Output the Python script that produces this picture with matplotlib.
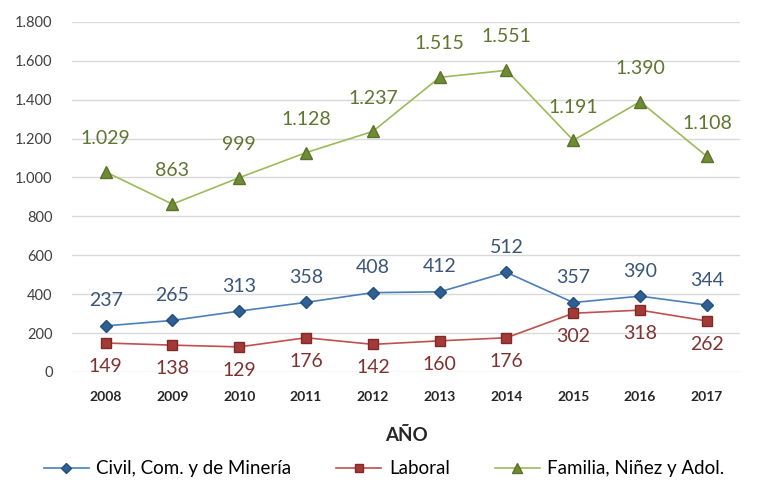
import matplotlib.pyplot as plt
import numpy as np

years = ["2008", "2009", "2010", "2011", "2012", "2013", "2014", "2015", "2016", "2017"]
civil = [237, 265, 313, 358, 408, 412, 512, 357, 390, 344]
laboral = [149, 138, 129, 176, 142, 160, 176, 302, 318, 262]
familia = [1029, 863, 999, 1128, 1237, 1515, 1551, 1191, 1390, 1108]


def fmt(v):
    return f"{v:,}".replace(",", ".")


plt.rcParams["font.family"] = ["Lato", "DejaVu Sans"]

fig = plt.figure(figsize=(7.68, 4.91), dpi=100)
ax = fig.add_axes([0.094, 0.2424, 0.87, 0.713])
x = np.arange(len(years))

ax.plot(x, civil, color="#4A7EBB", lw=1.2, marker="D", ms=6.5,
        mfc="#2F5F93", mec="#24507F", label="Civil, Com. y de Minería", zorder=3)
ax.plot(x, laboral, color="#C0504D", lw=1.2, marker="s", ms=7.5,
        mfc="#A33A37", mec="#7E2A28", label="Laboral", zorder=3)
ax.plot(x, familia, color="#9BBB59", lw=1.2, marker="^", ms=8.5,
        mfc="#6E8B35", mec="#5A7229", label="Familia, Niñez y Adol.", zorder=3)

for xi, v in zip(x, civil):
    ax.annotate(fmt(v), (xi, v), xytext=(0, 18), textcoords="offset points",
                ha="center", va="center", fontsize=14, color="#3A5579")
for xi, v in zip(x, laboral):
    ax.annotate(fmt(v), (xi, v), xytext=(0, -17), textcoords="offset points",
                ha="center", va="center", fontsize=14, color="#7F3230")
for xi, v in zip(x, familia):
    ax.annotate(fmt(v), (xi, v), xytext=(0, 24), textcoords="offset points",
                ha="center", va="center", fontsize=14, color="#5F7530")

ax.set_xlim(-0.5, len(years) - 0.5)
ax.set_ylim(0, 1800)
ax.set_yticks(range(0, 1801, 200))
ax.set_yticklabels([fmt(v) for v in range(0, 1801, 200)], fontsize=10.5, color="#404040")
ax.set_xticks(x)
ax.set_xticklabels(years, fontsize=10, fontweight="bold", color="#262626")
ax.tick_params(length=0, pad=14)
ax.tick_params(axis="y", pad=14)
ax.grid(axis="y", color="#D9D9D9", lw=1)
ax.set_axisbelow(True)
for s in ax.spines.values():
    s.set_visible(False)

ax.set_xlabel("AÑO", fontsize=13.5, fontweight="bold", color="#262626", labelpad=17)
fig.legend(loc="center", bbox_to_anchor=(0.5, 0.045), ncol=3, frameon=False,
           fontsize=13.5, columnspacing=2.4, handlelength=2.4, handletextpad=0.4,
           markerscale=0.85)

plt.savefig("out.png", dpi=100)
plt.close()
